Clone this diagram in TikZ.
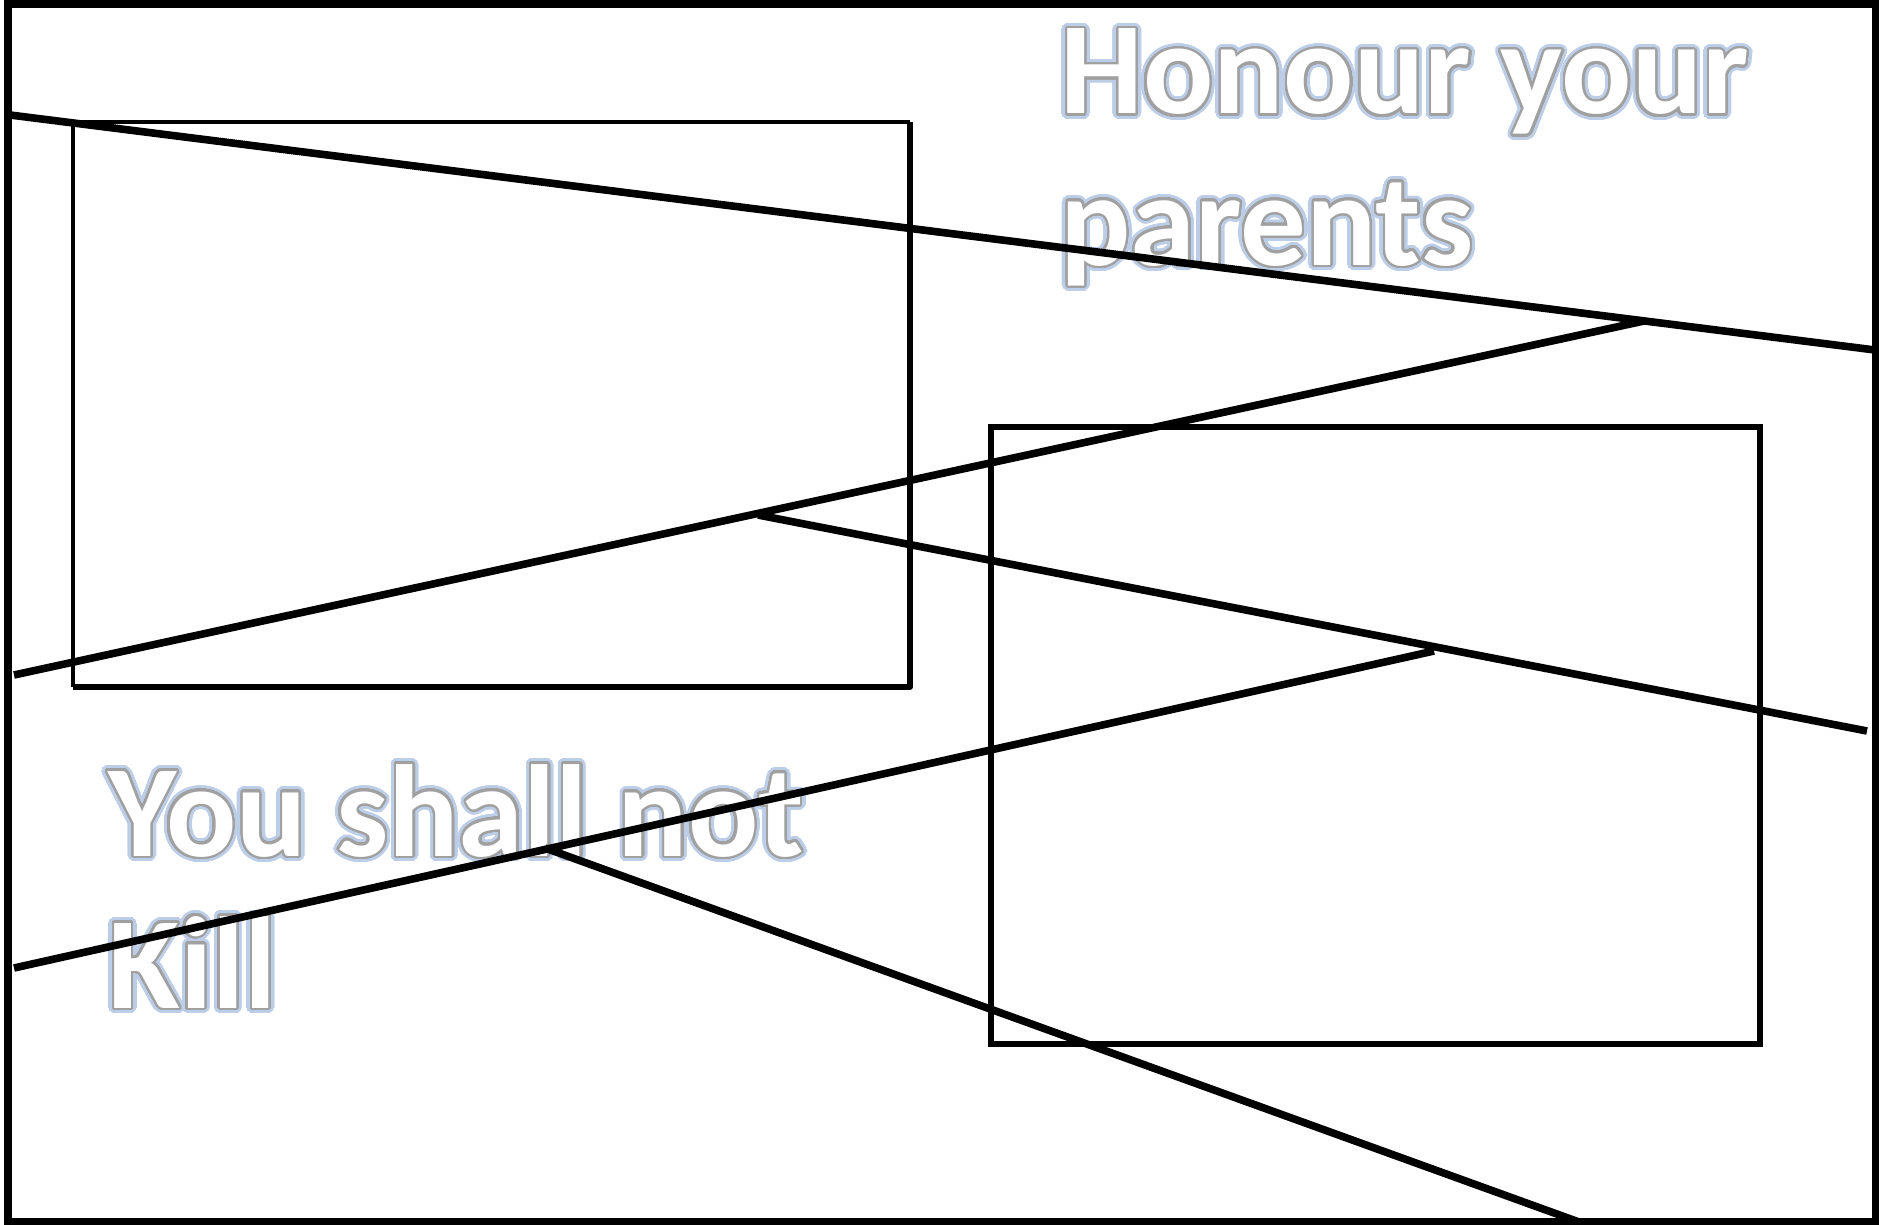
\documentclass[tikz,border=0pt]{standalone}
\usepackage{fontspec}
\setmainfont{Carlito}
\usepackage{contour}
\contournumber{40}
\definecolor{glowblue}{HTML}{BCCDE8}
\definecolor{outgray}{HTML}{A0A0A0}
\newcommand\glowlayer[1]{\contourlength{2.8pt}\contour{glowblue}{\textcolor{glowblue}{#1}}}
\newcommand\outlayer[1]{\contourlength{1.2pt}\contour{outgray}{\textcolor{white}{#1}}}
\tikzset{
  frameline/.style={line width=4pt, line cap=butt},
  thinbox/.style={line width=1.7pt},
  thickbox/.style={line width=2.7pt},
  bigline/.style={line width=3.8pt, line cap=butt},
  motto/.style={anchor=base west, inner sep=0pt, font=\bfseries\fontsize{65.5pt}{75pt}\selectfont}
}
\begin{document}
\begin{tikzpicture}[x=0.5pt,y=-0.5pt]
\useasboundingbox (0,0) rectangle (1879,1225);
% text layers
\node[motto] (t1g) at (1060,114) {\glowlayer{Honour your}};
\node[motto] (t2g) at (1060,265) {\glowlayer{parents}};
\node[motto] (t3g) at (108,856) {\glowlayer{You shall not}};
\node[motto] (t4g) at (108,1008) {\glowlayer{Kill}};
\node[motto] (t1) at (1060,114) {\outlayer{Honour your}};
\node[motto] (t2) at (1060,265) {\outlayer{parents}};
\node[motto] (t3) at (108,856) {\outlayer{You shall not}};
\node[motto] (t4) at (108,1008) {\outlayer{Kill}};
% outer frame
\draw[frameline] (8,4) rectangle (1876,1222);
% rectangle 1
\coordinate (r1a) at (73,122);
\coordinate (r1b) at (910,122);
\coordinate (r1c) at (910,687);
\coordinate (r1d) at (73,687);
\draw[thinbox] (r1d) -- (r1a) -- (r1b);
\draw[thickbox, line join=round] (r1b) -- (r1c) -- (r1d);
% rectangle 2
\coordinate (r2a) at (991,427);
\coordinate (r2c) at (1760,1044);
\draw[thickbox, line width=3pt] (r2a) rectangle (r2c);
% long lines
\coordinate (a1) at (10,115);   \coordinate (b1) at (1875,350);
\coordinate (a2) at (14,675);   \coordinate (b2) at (1644,321);
\coordinate (a3) at (758,515);  \coordinate (b3) at (1867,731);
\coordinate (a4) at (14,968);   \coordinate (b4) at (1434,651);
\coordinate (a5) at (545,848);  \coordinate (b5) at (1579,1222);
\draw[bigline] (a1) -- (b1);
\draw[bigline] (a2) -- (b2);
\draw[bigline] (a3) -- (b3);
\draw[bigline] (a4) -- (b4);
\draw[bigline] (a5) -- (b5);
\end{tikzpicture}
\end{document}
